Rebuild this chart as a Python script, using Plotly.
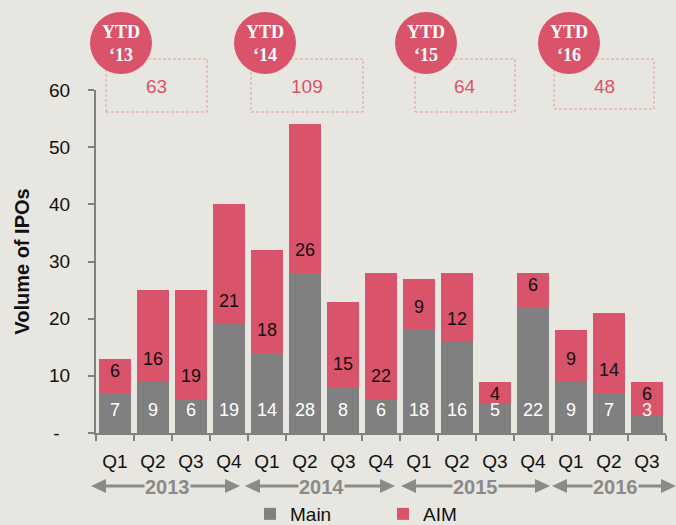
import plotly.graph_objects as go

# ---------------- data ----------------
quarters = ["Q1", "Q2", "Q3", "Q4", "Q1", "Q2", "Q3", "Q4",
            "Q1", "Q2", "Q3", "Q4", "Q1", "Q2", "Q3"]
years = ["2013", "2014", "2015", "2016"]
main_ipos = [7, 9, 6, 19, 14, 28, 8, 6, 18, 16, 5, 22, 9, 7, 3]
aim_ipos = [6, 16, 19, 21, 18, 26, 15, 22, 9, 12, 4, 6, 9, 14, 6]
ytd_labels = ["‘13", "‘14", "‘15", "‘16"]
ytd_totals = [63, 109, 64, 48]
y_tickvals = [0, 10, 20, 30, 40, 50, 60]
y_ticktext = ["-\u00a0\u00a0", "10", "20", "30", "40", "50", "60"]

# ---------------- style ----------------
BG = "#e8e6e0"
GREY = "#808080"
RED = "#d9536b"
FONT = "Liberation Sans, Arial, sans-serif"
SERIF = "Liberation Serif, DejaVu Serif, serif"

W, H = 676, 525
L, R, T, B = 96, 666, 90, 433  # plot area in pixels


def px(xp):
    return (xp - L) / (R - L)


def py(yp):
    return (B - yp) / (B - T)


x = list(range(len(quarters)))

fig = go.Figure()
fig.add_trace(go.Bar(x=x, y=main_ipos, name="Main", marker=dict(color=GREY, line=dict(width=0))))
fig.add_trace(go.Bar(x=x, y=aim_ipos, name="AIM", marker=dict(color=RED, line=dict(width=0))))

# value labels, sitting a fixed distance above the base of each segment
lab_off = 3.75
fig.add_trace(go.Scatter(
    x=x, y=[lab_off] * len(x), mode="text", text=[str(v) for v in main_ipos],
    textfont=dict(color="white", size=18, family=FONT), showlegend=False,
    hoverinfo="skip", cliponaxis=False))
fig.add_trace(go.Scatter(
    x=x, y=[m + min(lab_off, a - 2.4) for m, a in zip(main_ipos, aim_ipos)],
    mode="text", text=[str(v) for v in aim_ipos],
    textfont=dict(color="#111111", size=18, family=FONT), showlegend=False,
    hoverinfo="skip", cliponaxis=False))

shapes = []
annotations = []

# YTD boxes + circles
box_px = [(106, 207, 59, 112), (251, 363, 59, 112), (415, 515, 59, 112), (554, 654, 59, 109)]
circ_px = [121, 265, 426, 569]
circ_y, circ_r = 43, 31
for (x0, x1, y0, y1), tot in zip(box_px, ytd_totals):
    shapes.append(dict(type="rect", xref="paper", yref="paper",
                       x0=px(x0), x1=px(x1), y0=py(y1), y1=py(y0),
                       line=dict(color="rgba(217,83,107,0.5)", width=1, dash="3px,2px"),
                       fillcolor="rgba(0,0,0,0)", layer="above"))
    annotations.append(dict(xref="paper", yref="paper", x=px((x0 + x1) / 2), y=py(87),
                            xanchor="center", yanchor="middle",
                            text=str(tot), showarrow=False,
                            font=dict(color=RED, size=19, family=FONT)))
for cx, lab in zip(circ_px, ytd_labels):
    shapes.append(dict(type="circle", xref="paper", yref="paper",
                       x0=px(cx - circ_r), x1=px(cx + circ_r),
                       y0=py(circ_y + circ_r), y1=py(circ_y - circ_r),
                       line=dict(width=0), fillcolor=RED, layer="above"))
    annotations.append(dict(xref="paper", yref="paper", x=px(cx), y=py(circ_y),
                            xanchor="center", yanchor="middle",
                            text="<b>YTD</b><br><b>" + lab + "</b>", showarrow=False,
                            font=dict(color="white", size=18, family=SERIF)))

# year arrows
arrow_px = [(91, 240), (245, 395), (401, 550), (552, 676)]
year_cx = [167, 321, 475, 615]
ay_ = 486
hl, hh = 15, 7
ACOL = "#8a8a8a"
for (a0, a1), yr, cx in zip(arrow_px, years, year_cx):
    shapes.append(dict(type="line", xref="paper", yref="paper",
                       x0=px(a0 + hl - 2), x1=px(a1 - hl + 2), y0=py(ay_), y1=py(ay_),
                       line=dict(color=ACOL, width=3)))
    shapes.append(dict(type="path", xref="paper", yref="paper",
                       path=f"M{px(a0)},{py(ay_)} L{px(a0 + hl)},{py(ay_ - hh)} L{px(a0 + hl)},{py(ay_ + hh)} Z",
                       fillcolor=ACOL, line=dict(width=0)))
    shapes.append(dict(type="path", xref="paper", yref="paper",
                       path=f"M{px(a1)},{py(ay_)} L{px(a1 - hl)},{py(ay_ - hh)} L{px(a1 - hl)},{py(ay_ + hh)} Z",
                       fillcolor=ACOL, line=dict(width=0)))
    annotations.append(dict(xref="paper", yref="paper", x=px(cx), y=py(ay_ + 1),
                            xanchor="center", yanchor="middle",
                            text="<b>" + yr + "</b>", showarrow=False, bgcolor=BG, borderpad=0,
                            font=dict(color=ACOL, size=20, family=FONT)))

fig.update_layout(
    width=W, height=H,
    margin=dict(l=L, r=W - R, t=T, b=H - B, autoexpand=False),
    paper_bgcolor=BG, plot_bgcolor=BG,
    barmode="stack", bargap=0.17,
    font=dict(family=FONT, size=19, color="#111111"),
    showlegend=True,
    legend=dict(orientation="h", x=px(250), xanchor="left", y=py(514), yanchor="middle",
                font=dict(size=19, family=FONT), entrywidth=88, bgcolor="rgba(0,0,0,0)",
                traceorder="normal", itemclick=False),
    shapes=shapes, annotations=annotations,
    xaxis=dict(
        range=[-0.5, len(x) - 0.5], tickmode="array", tickvals=x, ticktext=quarters,
        ticks="outside", ticklen=10, tickcolor="rgba(0,0,0,0)", automargin=False,
        showline=True, linecolor=GREY, linewidth=2, showgrid=False, zeroline=False,
        tickfont=dict(size=19, color="#111111"),
        minor=dict(tickmode="array", tickvals=[i - 0.5 for i in range(len(x) + 1)],
                   ticks="outside", ticklen=6, tickcolor=GREY, tickwidth=1.5, showgrid=False),
    ),
    yaxis=dict(
        range=[0, 60], tickmode="array", tickvals=y_tickvals, ticktext=y_ticktext,
        ticks="outside", ticklen=6, tickcolor=GREY, tickwidth=1.5, automargin=False,
        showline=True, linecolor=GREY, linewidth=2, showgrid=False, zeroline=False,
        ticklabelstandoff=14,
        tickfont=dict(size=19, color="#111111"),
        title=dict(text="<b>Volume of IPOs</b>", font=dict(size=20, color="#111111"), standoff=14),
    ),
)

fig.write_html("out.html", config={"displayModeBar": False},
               post_script="document.body.style.margin='0';document.body.style.background='%s';" % BG)
